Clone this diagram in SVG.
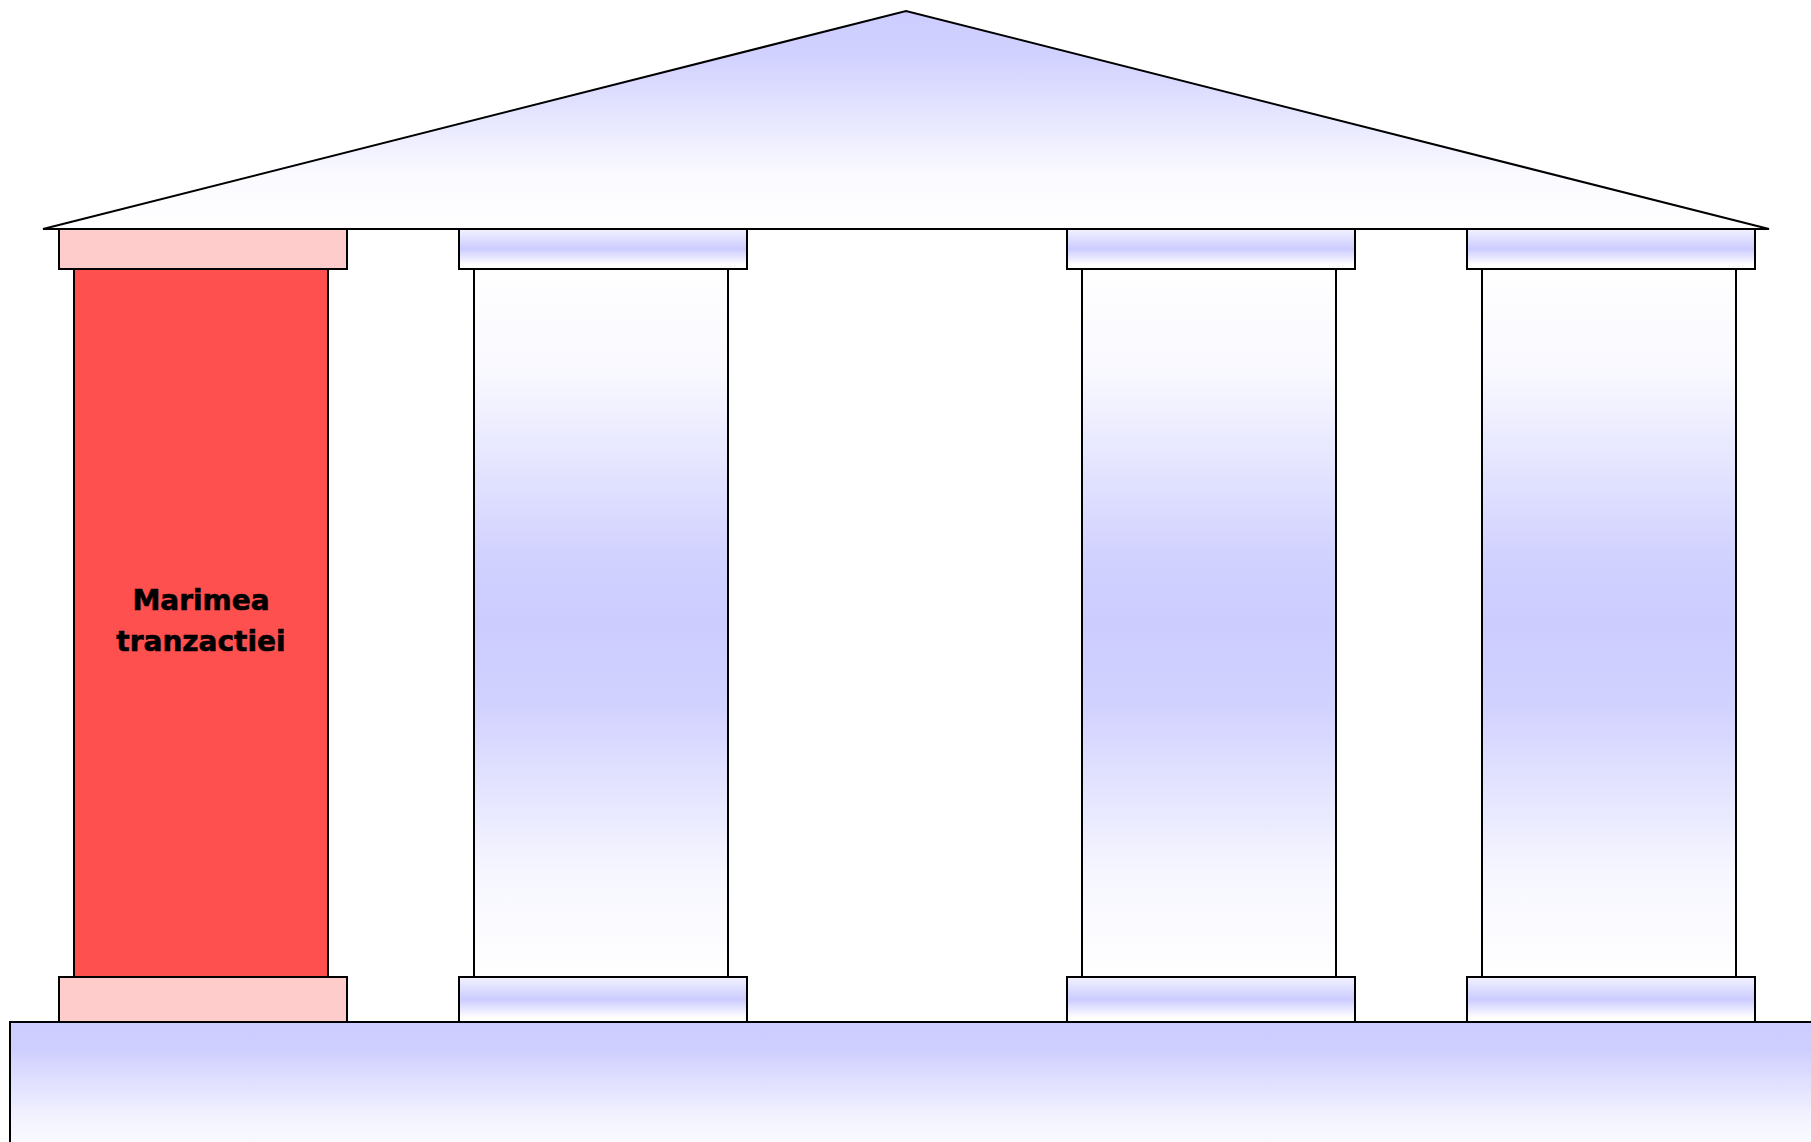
<svg xmlns="http://www.w3.org/2000/svg" width="1811" height="1142" viewBox="0 0 1811 1142">
<defs>
<linearGradient id="gRoof" x1="0" y1="0" x2="0" y2="1">
<stop offset="0" stop-color="#CCCCFF"/>
<stop offset="0.22" stop-color="#D2D2FF"/>
<stop offset="0.75" stop-color="#FAFAFF"/>
<stop offset="1" stop-color="#FFFFFF"/>
</linearGradient>
<linearGradient id="gCol" x1="0" y1="0" x2="0" y2="1">
<stop offset="0" stop-color="#FFFFFF"/>
<stop offset="0.15" stop-color="#F8F8FF"/>
<stop offset="0.4" stop-color="#D2D2FF"/>
<stop offset="0.5" stop-color="#CCCCFF"/>
<stop offset="0.62" stop-color="#D2D2FF"/>
<stop offset="0.85" stop-color="#F6F6FF"/>
<stop offset="1" stop-color="#FFFFFF"/>
</linearGradient>
<linearGradient id="gCap" x1="0" y1="0" x2="0" y2="1">
<stop offset="0" stop-color="#F2F2FF"/>
<stop offset="0.5" stop-color="#CCCCFF"/>
<stop offset="0.9" stop-color="#FFFFFF"/>
<stop offset="1" stop-color="#FFFFFF"/>
</linearGradient>
<linearGradient id="gBase" x1="0" y1="0" x2="0" y2="1">
<stop offset="0" stop-color="#CCCCFF"/>
<stop offset="0.2" stop-color="#CFCFFF"/>
<stop offset="0.7" stop-color="#F4F4FF"/>
<stop offset="1" stop-color="#FFFFFF"/>
</linearGradient>
</defs>
<style>
.s{stroke:#000;stroke-width:2}
.cap{fill:url(#gCap)}
.col{fill:url(#gCol)}
.rcap{fill:#FFCCCC}
.rcol{fill:#FF5050}
.t{font-family:"DejaVu Sans",Verdana,sans-serif;font-weight:bold;font-size:28px;fill:#000;stroke:#000;stroke-width:0.6;text-anchor:middle}
</style>
<g id="roof">
<polygon class="s" points="43,229 906,11 1769,229" fill="url(#gRoof)"/>
</g>
<g id="pillar1">
<rect class="s rcol" x="74" y="269" width="254" height="708"/>
<rect class="s rcap" x="59" y="229" width="288" height="40"/>
<rect class="s rcap" x="59" y="977" width="288" height="45"/>
<text class="t" x="201" y="610">Marimea</text>
<text class="t" x="201" y="651">tranzactiei</text>
</g>
<g id="pillar2">
<rect class="s col" x="474" y="269" width="254" height="708"/>
<rect class="s cap" x="459" y="229" width="288" height="40"/>
<rect class="s cap" x="459" y="977" width="288" height="45"/>
</g>
<g id="pillar3">
<rect class="s col" x="1082" y="269" width="254" height="708"/>
<rect class="s cap" x="1067" y="229" width="288" height="40"/>
<rect class="s cap" x="1067" y="977" width="288" height="45"/>
</g>
<g id="pillar4">
<rect class="s col" x="1482" y="269" width="254" height="708"/>
<rect class="s cap" x="1467" y="229" width="288" height="40"/>
<rect class="s cap" x="1467" y="977" width="288" height="45"/>
</g>
<g id="platform">
<rect class="s" x="10" y="1022" width="1820" height="140" fill="url(#gBase)"/>
</g>
<g id="connectors"/>
</svg>
